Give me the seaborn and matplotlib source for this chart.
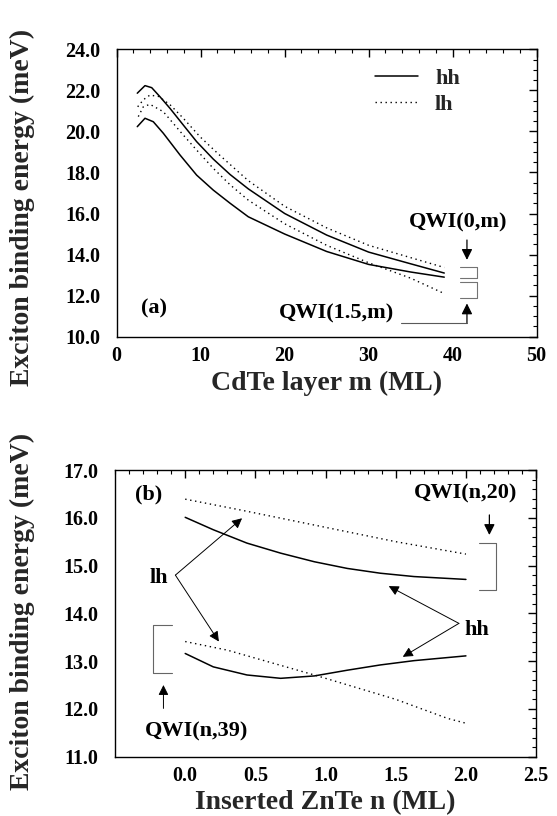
import numpy as np
import pandas as pd
import matplotlib
matplotlib.use("Agg")
import matplotlib.pyplot as plt
import seaborn as sns
from matplotlib.lines import Line2D
from matplotlib.ticker import MultipleLocator, FormatStrFormatter
from matplotlib.font_manager import FontProperties

# ---------------- data: panel (a) ----------------
m_hh_up = [2.45, 3.37, 4.17, 5.15, 6.35, 7.93, 9.52, 11.5, 13.5, 15.67, 20, 25, 30, 35, 39]
e_hh_up = [21.86, 22.23, 22.13, 21.69, 21.12, 20.31, 19.50, 18.65, 17.9, 17.2, 16.0, 14.95, 14.12, 13.55, 13.1]
m_hh_lo = [2.45, 3.37, 4.36, 5.55, 7.54, 9.52, 11.5, 13.5, 15.67, 20, 25, 30, 35, 39]
e_hh_lo = [20.23, 20.64, 20.47, 19.91, 18.85, 17.87, 17.14, 16.5, 15.84, 15.0, 14.15, 13.52, 13.15, 12.9]
m_lh_up = [2.5, 3.2, 3.96, 5.0, 6.35, 7.93, 9.92, 12.1, 14.29, 15.67, 20, 25, 30, 35, 39]
e_lh_up = [21.2, 21.55, 21.77, 21.7, 21.3, 20.64, 19.74, 18.9, 18.1, 17.6, 16.35, 15.3, 14.45, 13.85, 13.37]
m_lh_lo = [2.57, 3.17, 3.96, 5.55, 7.74, 9.52, 11.5, 13.5, 15.67, 20, 25, 30, 35, 39]
e_lh_lo = [20.72, 21.2, 21.32, 20.96, 19.91, 19.09, 18.2, 17.4, 16.65, 15.5, 14.45, 13.6, 12.85, 12.1]

# ---------------- data: panel (b) ----------------
n_lh20 = [0.0, 0.4, 0.75, 1.0, 1.5, 2.0]
e_lh20 = [16.39, 16.16, 15.95, 15.8, 15.5, 15.24]
n_hh20 = [0.0, 0.2, 0.44, 0.68, 0.92, 1.155, 1.39, 1.63, 2.0]
e_hh20 = [16.01, 15.75, 15.47, 15.26, 15.08, 14.94, 14.84, 14.77, 14.71]
n_lh39 = [0.0, 0.3, 0.92, 1.5, 1.87, 2.0]
e_lh39 = [13.41, 13.23, 12.71, 12.2, 11.80, 11.70]
n_hh39 = [0.0, 0.2, 0.44, 0.68, 0.92, 1.155, 1.39, 1.63, 2.0]
e_hh39 = [13.16, 12.88, 12.71, 12.64, 12.69, 12.81, 12.92, 13.01, 13.11]

sns.set_style("white")
plt.rcParams['font.family'] = ['Liberation Serif', 'DejaVu Serif']
plt.rcParams['font.weight'] = 'bold'
plt.rcParams['axes.labelweight'] = 'bold'

fig = plt.figure(figsize=(5.57, 8.16), dpi=100)
ax1 = fig.add_axes([0.2095, 0.5874, 0.754, 0.3522])
ax2 = fig.add_axes([0.2065, 0.0727, 0.756, 0.3513])

lw = 1.1
DOT = (0, (1, 2.6))
def curve(ax, x, y, dotted):
    df = pd.DataFrame({"x": x, "y": y})
    sns.lineplot(data=df, x="x", y="y", ax=ax, color="black",
                 linewidth=lw if not dotted else 1.0,
                 linestyle=DOT if dotted else "-", sort=False)

curve(ax1, m_hh_up, e_hh_up, False)
curve(ax1, m_hh_lo, e_hh_lo, False)
curve(ax1, m_lh_up, e_lh_up, True)
curve(ax1, m_lh_lo, e_lh_lo, True)

curve(ax2, n_lh20, e_lh20, True)
curve(ax2, n_hh20, e_hh20, False)
curve(ax2, n_lh39, e_lh39, True)
curve(ax2, n_hh39, e_hh39, False)

tickfont = dict(family='Liberation Serif', weight='bold', size=14.5)
labfont = dict(family='Liberation Serif', weight='bold', size=20)

def style(ax):
    for s in ax.spines.values():
        s.set_color("black"); s.set_linewidth(1.0)
    ax.tick_params(which='both', direction='in', top=True, right=True, colors='black')
    ax.tick_params(which='major', length=6, width=1.0)
    ax.tick_params(axis='y', which='major', pad=12)
    ax.tick_params(axis='x', which='major', pad=7)
    ax.tick_params(which='minor', length=3, width=0.8)
    for lab in ax.get_xticklabels() + ax.get_yticklabels():
        lab.set_fontproperties(FontProperties(**tickfont))

# panel a axes
ax1.set_xlim(0, 50); ax1.set_ylim(10, 24)
ax1.xaxis.set_major_locator(MultipleLocator(10))
ax1.xaxis.set_minor_locator(MultipleLocator(2))
ax1.yaxis.set_major_locator(MultipleLocator(2))
ax1.yaxis.set_minor_locator(MultipleLocator(0.5))
ax1.yaxis.set_major_formatter(FormatStrFormatter('%.1f'))
ax1.xaxis.set_major_formatter(FormatStrFormatter('%d'))
ax1.set_xlabel("CdTe layer m (ML)", fontdict=labfont, labelpad=3)
ax1.set_ylabel("Exciton binding energy (meV)", fontdict=labfont)
ax1.yaxis.set_label_coords(-0.195, 0.45)
style(ax1)

# legend
h = [Line2D([], [], color='black', lw=lw), Line2D([], [], color='black', lw=1.0, ls=DOT)]
leg = ax1.legend(h, ["hh", "lh"], loc='upper left', frameon=False, handlelength=1.95,
                 prop=dict(family='Liberation Serif', weight='bold', size=16),
                 bbox_to_anchor=(0.615, 0.935), borderpad=0, borderaxespad=0,
                 labelspacing=0.25, handletextpad=0.75)

txt = dict(family='Liberation Serif', weight='bold', size=16, color='black')
ax1.text(4.5, 11.38, "(a)", ha='center', va='center', fontdict=txt)
ax1.text(40.7, 15.55, "QWI(0,m)", ha='center', va='center', fontdict=txt)
ax1.text(26.2, 11.14, "QWI(1.5,m)", ha='center', va='center', fontdict=txt)
ap1 = dict(arrowstyle='-|>', color='black', lw=0.9, mutation_scale=16, shrinkA=0, shrinkB=0)
ax1.annotate("", xy=(41.7, 13.74), xytext=(41.7, 14.71), arrowprops=ap1)
ax1.plot([33.9, 41.7], [10.68, 10.68], color='0.35', lw=0.8)
ax1.annotate("", xy=(41.7, 11.62), xytext=(41.7, 10.68), arrowprops=ap1)
ax1.plot([40.9, 42.9, 42.9, 40.9], [13.41, 13.41, 12.84, 12.84], color='0.45', lw=0.8)
ax1.plot([40.9, 42.9, 42.9, 40.9], [12.68, 12.68, 11.87, 11.87], color='0.45', lw=0.8)

# panel b axes
ax2.set_xlim(-0.5, 2.5); ax2.set_ylim(11, 17)
ax2.set_xticks([0.0, 0.5, 1.0, 1.5, 2.0, 2.5])
ax2.xaxis.set_minor_locator(MultipleLocator(0.1))
ax2.yaxis.set_major_locator(MultipleLocator(1))
ax2.yaxis.set_minor_locator(MultipleLocator(0.2))
ax2.yaxis.set_major_formatter(FormatStrFormatter('%.1f'))
ax2.xaxis.set_major_formatter(FormatStrFormatter('%.1f'))
ax2.set_xlabel("Inserted ZnTe n (ML)", fontdict=labfont, labelpad=3)
ax2.set_ylabel("Exciton binding energy (meV)", fontdict=labfont)
ax2.yaxis.set_label_coords(-0.19, 0.508)
style(ax2)

ax2.text(-0.26, 16.48, "(b)", ha='center', va='center', fontdict=txt)
ax2.text(2.0, 16.51, "QWI(n,20)", ha='center', va='center', fontdict=txt)
ax2.text(0.083, 11.52, "QWI(n,39)", ha='center', va='center', fontdict=txt)
ax2.text(-0.19, 14.73, "lh", ha='center', va='center', fontdict=txt)
ax2.text(2.08, 13.65, "hh", ha='center', va='center', fontdict=txt)
ap = dict(arrowstyle='-|>', color='black', lw=0.7, mutation_scale=15, shrinkA=0, shrinkB=0)
ax2.annotate("", xy=(0.405, 15.99), xytext=(-0.07, 14.8), arrowprops=ap)
ax2.annotate("", xy=(0.24, 13.41), xytext=(-0.07, 14.8), arrowprops=ap)
ax2.annotate("", xy=(1.45, 14.57), xytext=(1.95, 13.79), arrowprops=ap)
ax2.annotate("", xy=(1.55, 13.09), xytext=(1.95, 13.79), arrowprops=ap)
ax2.annotate("", xy=(2.167, 15.64), xytext=(2.167, 16.06), arrowprops=ap1)
ax2.annotate("", xy=(-0.155, 12.5), xytext=(-0.155, 12.01), arrowprops=ap)
ax2.plot([2.095, 2.214, 2.214, 2.095], [15.47, 15.47, 14.49, 14.49], color='0.4', lw=0.8)
ax2.plot([-0.095, -0.226, -0.226, -0.095], [13.76, 13.76, 12.76, 12.76], color='0.4', lw=0.8)

fig.savefig("out.png", dpi=100)
